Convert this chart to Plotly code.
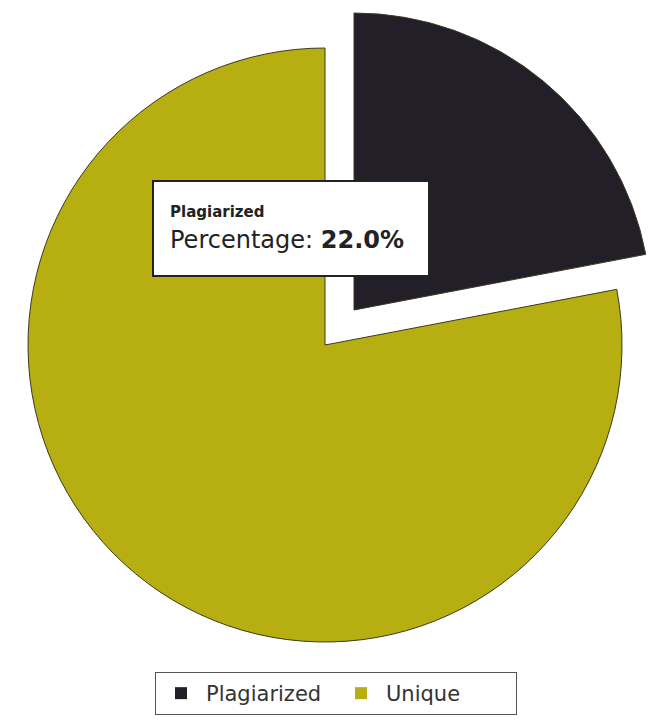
import plotly.graph_objects as go

labels = ["Plagiarized", "Unique"]
values = [22.0, 78.0]
colors = ["#221f29", "#b7ae12"]
outline = "#3a3a20"
clear = "rgba(0,0,0,0)"

W, H = 652, 720
R = 297            # pie radius in px
CX, CY = 325, 345  # centre of the unique slice
OFF_X, OFF_Y = 29, -35  # pull-out offset of the plagiarized slice


def dom(cx, cy, r):
    return dict(x=[(cx - r) / W, (cx + r) / W],
                y=[1 - (cy + r) / H, 1 - (cy - r) / H])


fig = go.Figure()

# legend carrier (zero-size pie)
fig.add_trace(go.Pie(
    labels=labels, values=values, sort=False, direction="clockwise",
    marker=dict(colors=colors), textinfo="none", hoverinfo="none",
    domain=dict(x=[0, 0.00001], y=[0, 0.00001]), showlegend=True,
))

# unique slice (in place)
fig.add_trace(go.Pie(
    labels=labels, values=values, sort=False, direction="clockwise",
    rotation=0,
    marker=dict(colors=[clear, colors[1]],
                line=dict(color=[clear, outline], width=1)),
    textinfo="none", hoverinfo="none",
    domain=dom(CX, CY, R), showlegend=False,
))

# plagiarized slice (pulled out)
fig.add_trace(go.Pie(
    labels=labels, values=values, sort=False, direction="clockwise",
    rotation=0,
    marker=dict(colors=[colors[0], clear],
                line=dict(color=[outline, clear], width=1)),
    textinfo="none", hoverinfo="none",
    domain=dom(CX + OFF_X, CY + OFF_Y, R), showlegend=False,
))

fig.add_annotation(
    xref="paper", yref="paper",
    x=152 / W, y=1 - 180 / H,
    xanchor="left", yanchor="top",
    text="<span style='font-size:15px'><b>Plagiarized</b></span><br>Percentage: <b>22.0%</b>",
    showarrow=False,
    align="left",
    valign="middle",
    width=242, height=61,
    borderpad=16,
    bgcolor="white",
    bordercolor="#222222",
    borderwidth=2,
    font=dict(family="DejaVu Sans", size=24, color="#222222"),
)

fig.update_layout(
    width=W, height=H,
    margin=dict(l=0, r=0, t=0, b=0),
    paper_bgcolor="white",
    plot_bgcolor="white",
    showlegend=True,
    legend=dict(
        orientation="h",
        x=155 / W, xanchor="left",
        y=1 - 672 / H, yanchor="top",
        bordercolor="#555555",
        borderwidth=1,
        bgcolor="white",
        font=dict(family="DejaVu Sans", size=21, color="#333333"),
        traceorder="normal",
        itemwidth=40,
        entrywidth=125,
    ),
)

fig.write_html("out.html")
